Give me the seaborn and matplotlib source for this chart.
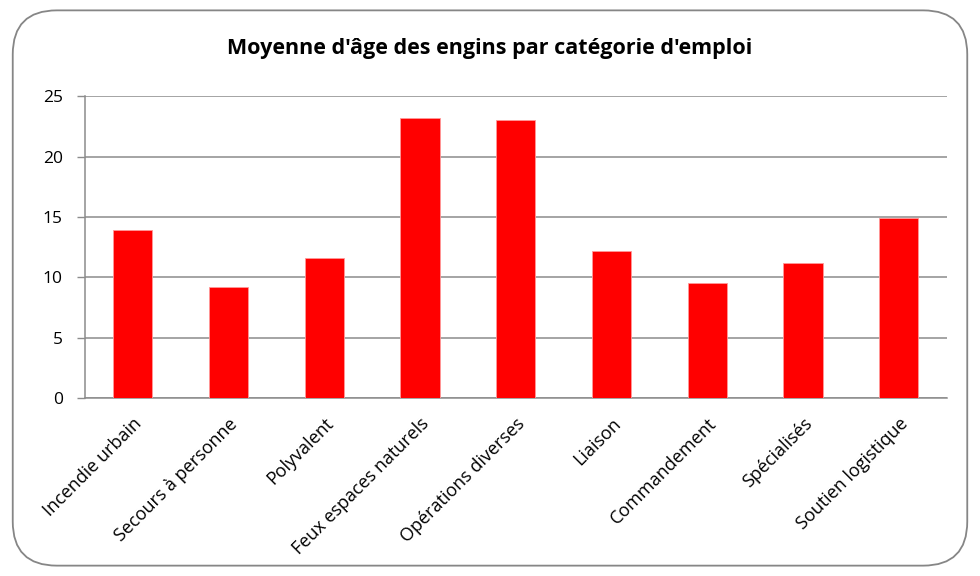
import matplotlib
matplotlib.use('Agg')
import matplotlib.pyplot as plt
from matplotlib.patches import FancyBboxPatch
import numpy as np
import pandas as pd
import seaborn as sns

# Données
categories = ['Incendie urbain', 'Secours à personne', 'Polyvalent', 'Feux espaces naturels',
              'Opérations diverses', 'Liaison', 'Commandement', 'Spécialisés', 'Soutien logistique']
age_moyen = [13.9, 9.2, 11.6, 23.2, 23.0, 12.2, 9.5, 11.2, 14.95]
y_ticks = [0, 5, 10, 15, 20, 25]

df = pd.DataFrame({'categorie': categories, 'age': age_moyen})

sns.set_style('white')
plt.rcParams['font.family'] = ['Open Sans', 'DejaVu Sans']

fig = plt.figure(figsize=(9.8, 5.76), dpi=100)
ax = fig.add_axes([0.0867, 0.309, 0.8793, 0.524])

# cadre arrondi façon Excel
frame = FancyBboxPatch((0.013, 0.018), 0.974, 0.964, boxstyle='round,pad=0,rounding_size=0.045',
                       transform=fig.transFigure, facecolor='white', edgecolor='#868686',
                       linewidth=1.3, zorder=-10, mutation_aspect=980 / 576)
fig.patches.append(frame)

sns.barplot(data=df, x='categorie', y='age', color='#ff0000', saturation=1, width=0.41,
            edgecolor='#ff9999', linewidth=0.6, ax=ax, zorder=3)

ax.set_xlim(-0.5, len(categories) - 0.5)
ax.set_ylim(0, 25)
ax.set_yticks(y_ticks)
ax.set_yticklabels([str(t) for t in y_ticks], fontsize=12.5, color='black')
ax.yaxis.grid(True, color='#8c8c8c', linewidth=1.1, zorder=0)
ax.set_axisbelow(True)
ax.set_xlabel('')
ax.set_ylabel('')

ax.set_xticks(range(len(categories)))
ax.set_xticklabels(categories, rotation=45, ha='right', rotation_mode='anchor',
                   fontsize=13, color='black')
ax.set_xticks(np.arange(-0.5, len(categories), 1.0), minor=True)
ax.tick_params(axis='x', which='major', length=0, pad=12)
ax.tick_params(axis='x', which='minor', length=6, color='#8c8c8c', width=1)
ax.tick_params(axis='y', which='major', length=6, color='#8c8c8c', width=1, left=True, pad=10)

for side in ['top', 'right']:
    ax.spines[side].set_visible(False)
for side in ['left', 'bottom']:
    ax.spines[side].set_color('#8c8c8c')
    ax.spines[side].set_linewidth(1.1)

fig.text(0.5, 0.915, "Moyenne d'âge des engins par catégorie d'emploi", ha='center', va='center',
         fontsize=15.5, fontweight='bold', color='black')

fig.savefig('out.png', dpi=100)
